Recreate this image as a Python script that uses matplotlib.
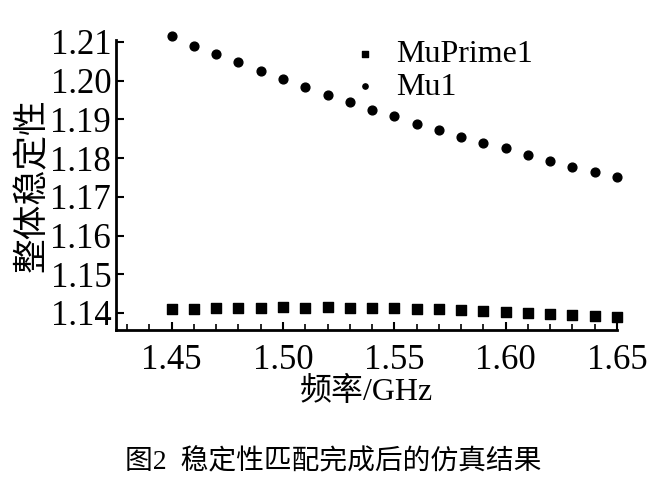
import matplotlib
matplotlib.use("Agg")
import matplotlib.pyplot as plt
import numpy as np

freq = [1.45,1.46,1.47,1.48,1.49,1.50,1.51,1.52,1.53,1.54,1.55,1.56,1.57,1.58,1.59,1.60,1.61,1.62,1.63,1.64,1.65]
mu1 = [1.2115,1.2090,1.2068,1.2047,1.2026,1.2004,1.1983,1.1963,1.1944,1.1924,1.1908,1.1888,1.1872,1.1855,1.1839,1.1825,1.1808,1.1792,1.1778,1.1765,1.1752]
muprime1 = [1.1410,1.1411,1.1414,1.1413,1.1414,1.1415,1.1414,1.1415,1.1413,1.1412,1.1412,1.1411,1.1409,1.1407,1.1405,1.1403,1.1401,1.1398,1.1394,1.1392,1.1389]
xticks = [1.45,1.50,1.55,1.60,1.65]
yticks = [1.14,1.15,1.16,1.17,1.18,1.19,1.20,1.21]

plt.rcParams['font.family'] = ['Liberation Serif', 'Noto Sans CJK SC']
fig = plt.figure(figsize=(6.66,4.99), dpi=100)
ax = fig.add_axes([116/666, 1-330/499, (617-116)/666, (330-40)/499])
ax.scatter(freq, muprime1, marker='s', s=45, color='black', label='MuPrime1', clip_on=False)
ax.scatter(freq, mu1, marker='o', s=40, color='black', label='Mu1', clip_on=False)
ax.set_xlim(1.425, 1.65)
ax.set_ylim(1.1356, 1.2105)
ax.set_xticks(xticks)
ax.set_xticklabels([f"{v:.2f}" for v in xticks])
ax.set_xticks(np.arange(1.43, 1.651, 0.01), minor=True)
ax.set_yticks(yticks)
ax.set_yticklabels([f"{v:.2f}" for v in yticks])
ax.tick_params(direction='in', labelsize=25, width=1.5, length=6)
ax.tick_params(axis='x', pad=10)
ax.tick_params(which='minor', direction='in', width=1.2, length=4)
for s in ['top','right']:
    ax.spines[s].set_visible(False)
for s in ['left','bottom']:
    ax.spines[s].set_linewidth(2)
ax.set_xlabel('频率/GHz', fontsize=23, labelpad=0)
ax.set_ylabel('整体稳定性', fontsize=25, labelpad=0)
ax.legend(loc='upper left', bbox_to_anchor=(0.375, 1.1), frameon=False, fontsize=23,
          handletextpad=0.0, labelspacing=0.1, markerscale=0.6)
fig.text(0.5, 0.06, '图2  稳定性匹配完成后的仿真结果', ha='center', fontsize=20)
fig.savefig('out.png', dpi=100)
